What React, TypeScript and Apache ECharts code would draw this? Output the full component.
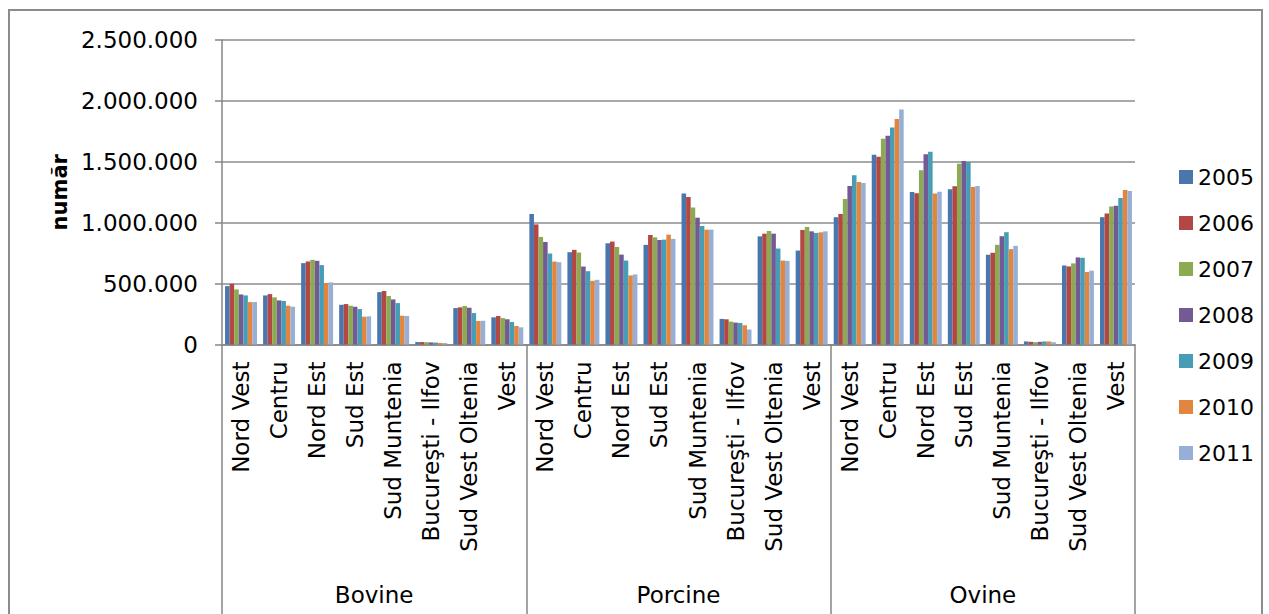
import React, { useEffect, useRef } from "react";
import * as echarts from "echarts";

const groups = ["Bovine", "Porcine", "Ovine"];
const regions = ["Nord Vest", "Centru", "Nord Est", "Sud Est", "Sud Muntenia", "Bucureşti - Ilfov", "Sud Vest Oltenia", "Vest"];
const years = ["2005", "2006", "2007", "2008", "2009", "2010", "2011"];
const yTicks = [0, 500000, 1000000, 1500000, 2000000, 2500000];

// order: Bovine (8 regions), Porcine (8), Ovine (8)
const v2005 = [479000, 403000, 668000, 326000, 430000, 20000, 299000, 223000, 1071000, 758000, 831000, 818000, 1240000, 210000, 888000, 771000, 1045000, 1558000, 1252000, 1274000, 737000, 25000, 649000, 1045000];
const v2006 = [498000, 414000, 682000, 332000, 439000, 20000, 305000, 234000, 986000, 777000, 845000, 899000, 1210000, 207000, 910000, 940000, 1072000, 1541000, 1241000, 1299000, 753000, 22000, 641000, 1075000];
const v2007 = [452000, 387000, 695000, 318000, 398000, 19000, 316000, 217000, 883000, 755000, 801000, 880000, 1125000, 188000, 932000, 965000, 1195000, 1689000, 1430000, 1484000, 818000, 19000, 666000, 1132000];
const v2008 = [411000, 362000, 687000, 310000, 370000, 17000, 302000, 207000, 842000, 640000, 738000, 858000, 1041000, 180000, 910000, 929000, 1301000, 1713000, 1563000, 1506000, 889000, 22000, 715000, 1140000];
const v2009 = [403000, 357000, 652000, 291000, 340000, 16000, 258000, 184000, 747000, 602000, 689000, 861000, 973000, 177000, 788000, 916000, 1389000, 1781000, 1582000, 1498000, 922000, 25000, 712000, 1203000];
const v2010 = [348000, 318000, 504000, 228000, 236000, 13000, 193000, 152000, 681000, 523000, 567000, 902000, 943000, 158000, 689000, 921000, 1334000, 1852000, 1239000, 1293000, 783000, 25000, 595000, 1268000];
const v2011 = [348000, 310000, 510000, 231000, 234000, 12000, 195000, 141000, 676000, 531000, 575000, 867000, 943000, 123000, 687000, 929000, 1326000, 1929000, 1255000, 1301000, 810000, 19000, 606000, 1260000];

const seriesValues = [v2005, v2006, v2007, v2008, v2009, v2010, v2011];
const colors = ["#4A76AE", "#B24743", "#8CAA50", "#745A94", "#469DB5", "#E2863F", "#97AFD6"];

const FONT = "DejaVu Sans";

function fmt(v: number): string {
  return String(Math.round(v)).replace(/\B(?=(\d{3})+(?!\d))/g, ".");
}

export default function App() {
  const ref = useRef<HTMLDivElement>(null);
  useEffect(() => {
    if (!ref.current) return;
    const chart = echarts.init(ref.current, null, { renderer: "svg" });
    const categories: string[] = [];
    groups.forEach((g) => regions.forEach((r) => categories.push(g + "|" + r)));
    chart.setOption({
      animation: false,
      backgroundColor: "#ffffff",
      textStyle: { fontFamily: FONT, color: "#000" },
      graphic: [
        {
          type: "rect",
          shape: { x: 9, y: 10, width: 1253, height: 700 },
          style: { fill: "none", stroke: "#8c8c8c", lineWidth: 2 },
          silent: true,
          z: 0,
        },
      ],
      legend: {
        orient: "vertical",
        left: 1174,
        top: 161,
        itemWidth: 14,
        itemHeight: 14,
        itemGap: 24,
        icon: "rect",
        textStyle: { fontFamily: FONT, fontSize: 22, color: "#000" },
        data: years,
      },
      grid: { left: 222, right: 134, top: 40, bottom: 269.5, containLabel: false },
      xAxis: [
        {
          type: "category",
          data: categories,
          axisLine: { show: true, lineStyle: { color: "#868686", width: 1.5 } },
          axisTick: { show: false },
          axisLabel: {
            interval: 0,
            rotate: 90,
            margin: 17,
            fontFamily: FONT,
            fontSize: 23,
            color: "#000",
            formatter: (v: string) => v.split("|")[1],
          },
        },
        {
          type: "category",
          data: groups,
          position: "bottom",
          axisLine: { show: false },
          axisTick: { show: true, length: 280, lineStyle: { color: "#868686", width: 1.5 } },
          axisLabel: {
            interval: 0,
            margin: 239,
            fontFamily: FONT,
            fontSize: 23,
            color: "#000",
          },
          splitLine: { show: false },
        },
      ],
      yAxis: {
        type: "value",
        min: yTicks[0],
        max: yTicks[yTicks.length - 1],
        interval: 500000,
        name: "număr",
        nameLocation: "middle",
        nameGap: 150,
        nameTextStyle: { fontFamily: FONT, fontSize: 21, fontWeight: "bold", color: "#000" },
        axisLine: { show: true, lineStyle: { color: "#868686", width: 1.5 } },
        axisTick: { show: true, length: 7, lineStyle: { color: "#868686", width: 1.5 } },
        axisLabel: {
          margin: 24,
          fontFamily: FONT,
          fontSize: 23,
          color: "#000",
          formatter: (v: number) => fmt(v),
        },
        splitLine: { show: true, lineStyle: { color: "#8c8c8c", width: 1.5 } },
      },
      series: years.map((y, i) => ({
        name: y,
        type: "bar",
        xAxisIndex: 0,
        data: seriesValues[i],
        barGap: "0%",
        barCategoryGap: "16%",
        itemStyle: { color: colors[i] },
      })),
    });
    return () => chart.dispose();
  }, []);
  return (
    <div
      ref={ref}
      style={{ position: "fixed", left: 0, top: 0, width: 1269, height: 614, background: "#fff" }}
    />
  );
}
